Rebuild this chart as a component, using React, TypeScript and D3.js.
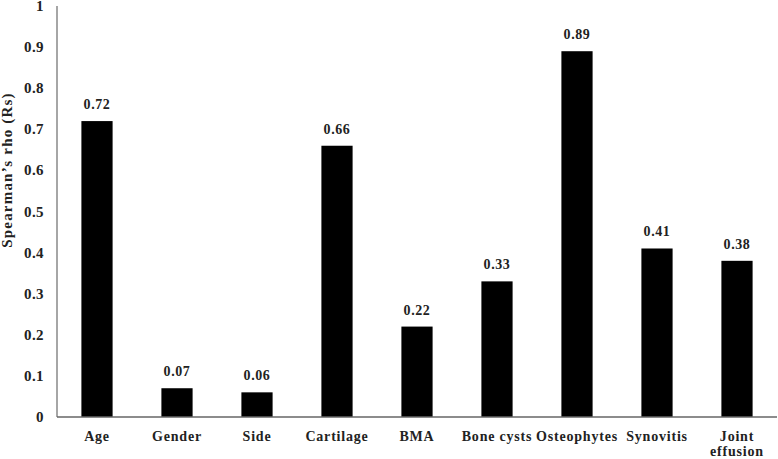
import React from "react";
import * as d3 from "d3";

const categories = ["Age", "Gender", "Side", "Cartilage", "BMA", "Bone cysts", "Osteophytes", "Synovitis", "Joint effusion"];
const categoryLines = [["Age"], ["Gender"], ["Side"], ["Cartilage"], ["BMA"], ["Bone cysts"], ["Osteophytes"], ["Synovitis"], ["Joint", "effusion"]];
const values = [0.72, 0.07, 0.06, 0.66, 0.22, 0.33, 0.89, 0.41, 0.38];
const valueLabels = ["0.72", "0.07", "0.06", "0.66", "0.22", "0.33", "0.89", "0.41", "0.38"];
const yTicks = [0, 0.1, 0.2, 0.3, 0.4, 0.5, 0.6, 0.7, 0.8, 0.9, 1];
const yTickLabels = ["0", "0.1", "0.2", "0.3", "0.4", "0.5", "0.6", "0.7", "0.8", "0.9", "1"];
const yTitle = "Spearman\u2019s rho (Rs)";

export default function App() {
  const W = 778, H = 459;
  const left = 57, right = 777, top = 6, bottom = 417;
  const x = d3.scaleBand<string>().domain(categories).range([left, right]).paddingInner(0.61).paddingOuter(0.305);
  const y = d3.scaleLinear().domain([0, 1]).range([bottom, top]);
  const font = "'Liberation Serif', 'Times New Roman', serif";
  return (
    <svg width={W} height={H} style={{ position: "absolute", left: 0, top: 0, background: "#fff" }} fontFamily={font} fontWeight="bold">
      {values.map((v, i) => (
        <rect key={i} x={x(categories[i])} y={y(v)} width={x.bandwidth()} height={y(0) - y(v)} fill="#000" />
      ))}
      {values.map((v, i) => (
        <text key={"v" + i} x={(x(categories[i]) as number) + x.bandwidth() / 2} y={y(v) - 12} textAnchor="middle" fontSize={14} letterSpacing={0.6} fill="#222">
          {valueLabels[i]}
        </text>
      ))}
      <line x1={left} x2={left} y1={top} y2={bottom} stroke="#888" strokeWidth={1.5} />
      <line x1={left} x2={right} y1={bottom} y2={bottom} stroke="#666" strokeWidth={1.5} />
      {yTicks.map((t, i) => (
        <text key={"t" + i} x={44} y={y(t) + 5} textAnchor="end" fontSize={15} letterSpacing={0.4} fill="#222">
          {yTickLabels[i]}
        </text>
      ))}
      {categoryLines.map((lines, i) => (
        <text key={"c" + i} x={(x(categories[i]) as number) + x.bandwidth() / 2} y={441} textAnchor="middle" fontSize={14} letterSpacing={0.8} fill="#222">
          {lines.map((l, j) => (
            <tspan key={j} x={(x(categories[i]) as number) + x.bandwidth() / 2} dy={j === 0 ? 0 : 15}>{l}</tspan>
          ))}
        </text>
      ))}
      <text transform={`translate(12, 170) rotate(-90)`} textAnchor="middle" fontSize={15} letterSpacing={1.2} fill="#222">{yTitle}</text>
    </svg>
  );
}
